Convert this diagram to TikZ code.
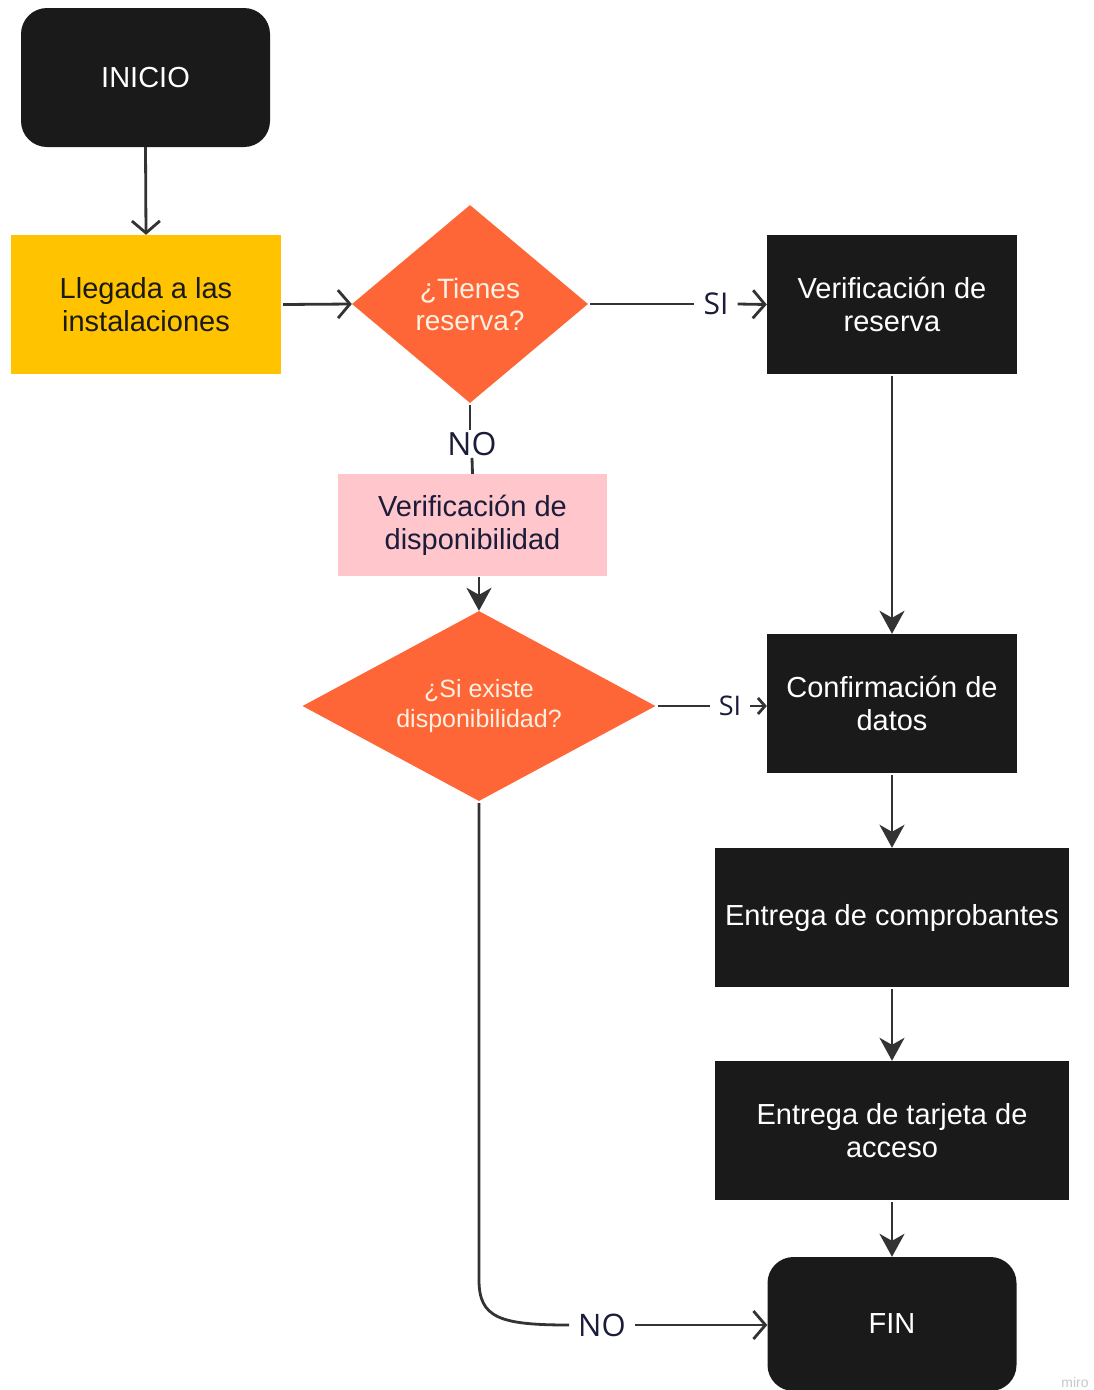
\documentclass[tikz,border=0pt]{standalone}
\usepackage{fontspec}
\setmainfont{Liberation Sans}
\newfontfamily\labelfont{Open Sans}
\usetikzlibrary{shapes.geometric,arrows.meta}
\definecolor{boxblack}{HTML}{1A1A1A}
\definecolor{arrival}{HTML}{FFC300}
\definecolor{decision}{HTML}{FE6637}
\definecolor{decisiontext}{HTML}{FFF1E2}
\definecolor{pinkbox}{HTML}{FFC6CB}
\definecolor{navy}{HTML}{1B1B3A}
\definecolor{wire}{HTML}{333333}
\begin{document}
\begin{tikzpicture}[x=1pt,y=-1pt,
  every node/.style={inner sep=0pt},
  boxtext/.style={font=\fontsize{29}{33}\selectfont, align=center},
  blackbox/.style={boxtext, fill=boxblack, text=white, minimum width=250pt, minimum height=139pt},
  terminal/.style={blackbox, rounded corners=26pt, minimum width=249pt},
  widebox/.style={blackbox, minimum width=354pt},
  choice/.style={diamond, fill=decision, text=decisiontext, align=center},
  edgelabel/.style={text=navy, fill=white, inner xsep=9pt, inner ysep=2pt},
  openhead/.style={-{Straight Barb[length=12pt,width=28pt,line width=2.8pt]}},
  solidhead/.style={-{Stealth[length=23pt,width=25pt,inset=7pt]}},
  wireline/.style={draw=wire, line width=2.8pt}
]
\useasboundingbox (0,0) rectangle (1094,1390);

% process nodes
\node[terminal] (inicio) at (145.5,77.5) {INICIO};
\node[boxtext, fill=arrival, text=boxblack, minimum width=270pt, minimum height=139pt]
  (llegada) at (146,304.5) {Llegada a las\\instalaciones};
\node[choice, minimum width=236pt, minimum height=198pt, aspect=1.19,
  font=\fontsize{28}{32}\selectfont] (tienes) at (470,304) {¿Tienes\\reserva?};
\node[blackbox] (vreserva) at (892,304.5) {Verificación de\\reserva};
\node[boxtext, fill=pinkbox, text=navy, minimum width=269pt, minimum height=102pt]
  (vdisp) at (472.5,525) {Verificación de\\disponibilidad};
\node[choice, minimum width=353pt, minimum height=190pt, aspect=1.86,
  font=\fontsize{25}{30}\selectfont] (existe) at (479,706) {¿Si existe\\disponibilidad?};
\node[blackbox] (confirm) at (892,703.5) {Confirmación de\\datos};
\node[widebox] (comprob) at (892,917.5) {Entrega de comprobantes};
\node[widebox] (tarjeta) at (892,1130.5) {Entrega de tarjeta de\\acceso};
\node[terminal, minimum height=134pt] (fin) at (892,1324) {FIN};

% branch labels
\node[edgelabel, font=\labelfont\fontsize{30}{34}\selectfont] (si1) at (716,304) {SI};
\node[edgelabel, font=\labelfont\fontsize{32}{36}\selectfont] (no1) at (472,444) {NO};
\node[edgelabel, font=\labelfont\fontsize{27}{31}\selectfont] (si2) at (730,706) {SI};
\node[edgelabel, font=\labelfont\fontsize{31}{35}\selectfont] (no2) at (602,1325) {NO};
\coordinate (bend) at (479,1280);

% connectors
\draw[wireline, openhead] (inicio.south) -- (llegada.north);
\draw[wireline, openhead] (llegada.east) ++(2,0) -- (tienes.west);
\draw[wireline] (tienes.east) ++(2,0) -- (si1.west);
\draw[wireline, openhead] (si1.east) -- (vreserva.west);
\draw[wireline] (tienes.south) ++(0,2) -- (tienes.south |- no1.north);
\draw[wireline] (no1.south) -- (vdisp.north);
\draw[wireline, solidhead] (vdisp.south -| existe.north) ++(0,1) -- (existe.north);
\draw[wireline] (existe.east) ++(2,0) -- (si2.west);
\draw[wireline, -{Straight Barb[length=7pt,width=16pt,line width=2.8pt]}] (si2.east) -- (si2.east -| confirm.west);
\draw[wireline, solidhead] (vreserva.south) ++(0,2) -- (confirm.north);
\draw[wireline, solidhead] (confirm.south) ++(0,2) -- (comprob.north);
\draw[wireline, solidhead] (comprob.south) ++(0,2) -- (tarjeta.north);
\draw[wireline, solidhead] (tarjeta.south) ++(0,2) -- (fin.north);
\draw[wireline] (existe.south) ++(0,2) -- (bend) .. controls (479,1318) and (500,1325) .. (no2.west);
\draw[wireline, openhead] (no2.east) -- (fin.west |- no2.east);

% editor watermark
\node[text=gray!45, font=\fontsize{14}{16}\selectfont] (mark) at (1075,1382) {miro};
\end{tikzpicture}
\end{document}
